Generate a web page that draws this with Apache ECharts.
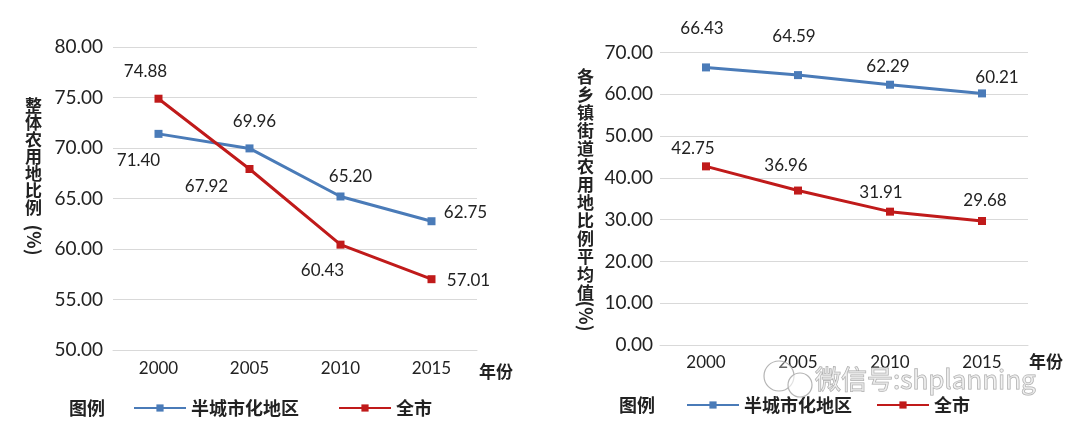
<!DOCTYPE html>
<html>
<head>
<meta charset="utf-8">
<script src="https://cdn.jsdelivr.net/npm/echarts@6/dist/echarts.min.js"></script>
<style>
html,body{margin:0;padding:0;background:#fff;}
#chart{width:1080px;height:429px;}
</style>
</head>
<body>
<div id="chart"></div>
<script>
// ---- data ----
const years = ['2000', '2005', '2010', '2015'];
const overallSemiUrban = [71.40, 69.96, 65.20, 62.75];
const overallCity = [74.88, 67.92, 60.43, 57.01];
const avgSemiUrban = [66.43, 64.59, 62.29, 60.21];
const avgCity = [42.75, 36.96, 31.91, 29.68];
const seriesNames = ['半城市化地区', '全市'];
const leftAxisTitle = ['整', '体', '农', '用', '地', '比', '例'];
const rightAxisTitle = ['各', '乡', '镇', '街', '道', '农', '用', '地', '比', '例', '平', '均', '值'];
const xAxisTitle = '年份';
const legendTitle = '图例';
const watermark = '微信号:shplanning';

// ---- layout / style (not data) ----
const BLUE = '#4A7BB8';
const RED = '#C01A1A';
const GRID_COLOR = '#D9D9D9';
const NUM_FONT = 'Lato, "Noto Sans", sans-serif';
const CJK_FONT = '"Noto Sans CJK SC", sans-serif';
const offsets = {
  lBlue: [[-20, 27], [5, -27], [10, -20], [34, -9]],
  lRed: [[-13, -27], [-43, 18], [-18, 26], [37, 1]],
  rBlue: [[-4, -39], [-4, -39], [-2, -18], [15, -16]],
  rRed: [[-13, -18], [-12, -25], [-9, -19], [3, -20]]
};

function items(values, offs) {
  return values.map((v, i) => ({ value: v, label: { offset: offs[i] } }));
}

function lineSeries(name, color, values, offs, idx) {
  return {
    name: name,
    type: 'line',
    xAxisIndex: idx,
    yAxisIndex: idx,
    data: items(values, offs),
    symbol: 'rect',
    symbolSize: 8,
    showAllSymbol: true,
    lineStyle: { color: color, width: 3 },
    itemStyle: { color: color },
    label: {
      show: true,
      position: 'inside',
      formatter: p => p.value.toFixed(2),
      fontFamily: NUM_FONT,
      fontSize: 17,
      color: '#222'
    },
    emphasis: { disabled: true },
    animation: false
  };
}

function xAxis(idx, margin, nameLineHeight, nameGap) {
  return {
    type: 'category',
    gridIndex: idx,
    data: years,
    boundaryGap: true,
    axisLine: { show: true, lineStyle: { color: GRID_COLOR, width: 1 } },
    axisTick: { show: false },
    axisLabel: { margin: margin, fontFamily: NUM_FONT, fontSize: 17, color: '#222' },
    name: xAxisTitle,
    nameLocation: 'end',
    nameGap: nameGap,
    nameTextStyle: { fontFamily: CJK_FONT, fontWeight: 'bold', fontSize: 17, color: '#222', align: 'left', verticalAlign: 'top', lineHeight: nameLineHeight }
  };
}

function yAxis(idx, min, max, interval, margin) {
  return {
    type: 'value',
    gridIndex: idx,
    min: min, max: max, interval: interval,
    axisLine: { show: false },
    axisTick: { show: false },
    axisLabel: { margin: margin, fontFamily: NUM_FONT, fontSize: 19, color: '#222', formatter: v => v.toFixed(2) },
    splitLine: { show: true, lineStyle: { color: GRID_COLOR, width: 1 } }
  };
}

function legendItem(name, left, top) {
  return {
    show: true,
    data: [name],
    left: left,
    top: top,
    itemWidth: 52,
    itemHeight: 9,
    itemGap: 6,
    selectedMode: false,
    textStyle: { fontFamily: CJK_FONT, fontWeight: 'bold', fontSize: 18, color: '#222' }
  };
}

const chart = echarts.init(document.getElementById('chart'), null, { renderer: 'canvas' });

const option = {
  backgroundColor: '#fff',
  animation: false,
  grid: [
    { left: 113, right: 1080 - 477, top: 47, bottom: 429 - 350, containLabel: false },
    { left: 660, right: 1080 - 1028, top: 52.5, bottom: 429 - 345, containLabel: false }
  ],
  xAxis: [xAxis(0, 10, 44, 2), xAxis(1, 9, 34, 1)],
  yAxis: [yAxis(0, 50, 80, 5, 10), yAxis(1, 0, 70, 10, 7)],
  legend: [
    legendItem(seriesNames[0], 128, 394),
    legendItem(seriesNames[1], 333, 394),
    legendItem(seriesNames[0], 681, 391),
    legendItem(seriesNames[1], 871, 391)
  ],
  series: [
    lineSeries(seriesNames[0], BLUE, overallSemiUrban, offsets.lBlue, 0),
    lineSeries(seriesNames[1], RED, overallCity, offsets.lRed, 0),
    lineSeries(seriesNames[0], BLUE, avgSemiUrban, offsets.rBlue, 1),
    lineSeries(seriesNames[1], RED, avgCity, offsets.rRed, 1)
  ],
  graphic: [
    { type: 'text', left: 25, top: 97, style: { text: leftAxisTitle.join('\n'), font: 'bold 17px ' + CJK_FONT, lineHeight: 17, fill: '#222', align: 'center' } },
    { type: 'text', x: 34, y: 240, rotation: -Math.PI / 2, style: { text: '(%)', font: 'bold 18px ' + CJK_FONT, fill: '#222', align: 'center', verticalAlign: 'middle' } },
    { type: 'text', left: 577, top: 68, style: { text: rightAxisTitle.join('\n'), font: 'bold 17px ' + CJK_FONT, lineHeight: 18, fill: '#222', align: 'center' } },
    { type: 'text', x: 586, y: 316, rotation: -Math.PI / 2, style: { text: '(%)', font: 'bold 18px ' + CJK_FONT, fill: '#222', align: 'center', verticalAlign: 'middle' } },
    { type: 'text', x: 69, y: 408, style: { text: legendTitle, font: 'bold 18px ' + CJK_FONT, fill: '#222', verticalAlign: 'middle' } },
    { type: 'text', x: 619, y: 405, style: { text: legendTitle, font: 'bold 18px ' + CJK_FONT, fill: '#222', verticalAlign: 'middle' } },
    { type: 'circle', shape: { cx: 779, cy: 376, r: 15 }, style: { fill: 'rgba(255,255,255,0.3)', stroke: '#b5b5b5', lineWidth: 1.2 }, z: 100 },
    { type: 'circle', shape: { cx: 800, cy: 385, r: 12 }, style: { fill: 'rgba(255,255,255,0.6)', stroke: '#b5b5b5', lineWidth: 1.2 }, z: 100 },
    { type: 'text', x: 815, y: 379, z: 100, style: { text: watermark, font: '26px ' + CJK_FONT, fill: 'rgba(235,235,235,0.6)', stroke: '#a8a8a8', lineWidth: 1, verticalAlign: 'middle' } }
  ]
};
chart.setOption(option);
</script>
</body>
</html>
